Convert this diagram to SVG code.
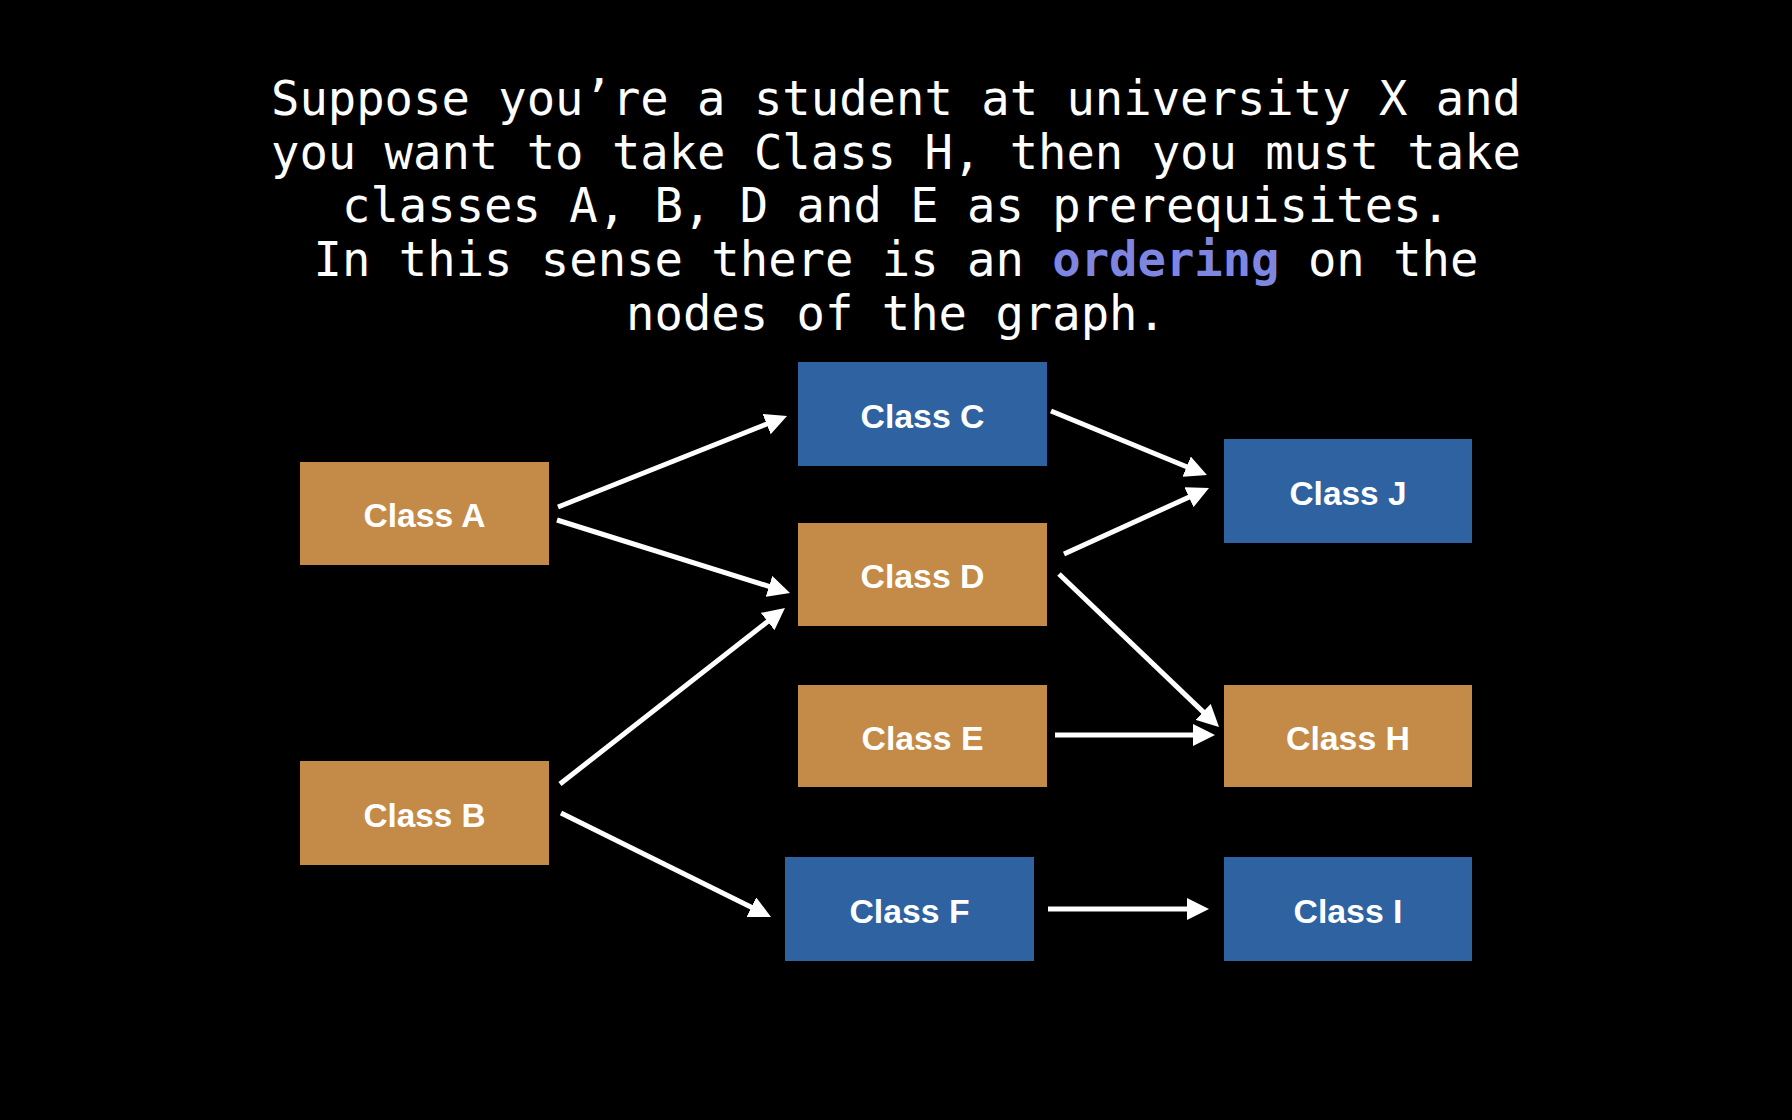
<svg xmlns="http://www.w3.org/2000/svg" width="1792" height="1120" viewBox="0 0 1792 1120">
<defs>
<style>
.title{font-family:"DejaVu Sans Mono",monospace;font-size:47.2px;fill:#ffffff;text-anchor:middle}
.hl{fill:#7F86E2;font-weight:bold}
.box-o{fill:#C48A47}
.box-b{fill:#2E62A0}
.lbl{font-family:"Liberation Sans",Arial,sans-serif;font-weight:bold;font-size:34px;fill:#ffffff;text-anchor:middle}
.edge{stroke:#ffffff;stroke-width:5;fill:none;marker-end:url(#arr)}
</style>
<marker id="arr" markerUnits="userSpaceOnUse" markerWidth="22" markerHeight="22" refX="4" refY="11" orient="auto" viewBox="0 0 22 22">
<path d="M0,0 L22,11 L0,22 z" fill="#ffffff"/>
</marker>
</defs>
<rect width="1792" height="1120" fill="#000000"/>
<g id="title">
<text class="title" x="896" y="115">Suppose you’re a student at university X and</text>
<text class="title" x="896" y="169">you want to take Class H, then you must take</text>
<text class="title" x="896" y="222">classes A, B, D and E as prerequisites.</text>
<text class="title" x="896" y="276">In this sense there is an <tspan class="hl">ordering</tspan> on the</text>
<text class="title" x="896" y="330">nodes of the graph.</text>
</g>
<g id="connectors">
<line class="edge" x1="558" y1="507" x2="770.3" y2="422.6"/>
<line class="edge" x1="557" y1="520" x2="772.8" y2="587.6"/>
<line class="edge" x1="560" y1="784" x2="770.8" y2="619.1"/>
<line class="edge" x1="561" y1="813" x2="754.9" y2="909"/>
<line class="edge" x1="1051" y1="411" x2="1190.3" y2="468.2"/>
<line class="edge" x1="1064" y1="554" x2="1192.6" y2="495.5"/>
<line class="edge" x1="1059" y1="574" x2="1206" y2="714.6"/>
<line class="edge" x1="1055" y1="735" x2="1197" y2="735"/>
<line class="edge" x1="1048" y1="909" x2="1191" y2="909"/>
</g>
<g id="classA"><rect class="box-o" x="300" y="462" width="249" height="103"/><text class="lbl" x="424.5" y="527" textLength="122" lengthAdjust="spacingAndGlyphs">Class A</text></g>
<g id="classB"><rect class="box-o" x="300" y="761" width="249" height="104"/><text class="lbl" x="424.5" y="827" textLength="122" lengthAdjust="spacingAndGlyphs">Class B</text></g>
<g id="classC"><rect class="box-b" x="798" y="362" width="249" height="104"/><text class="lbl" x="922.5" y="428" textLength="124" lengthAdjust="spacingAndGlyphs">Class C</text></g>
<g id="classD"><rect class="box-o" x="798" y="523" width="249" height="103"/><text class="lbl" x="922.5" y="588" textLength="124" lengthAdjust="spacingAndGlyphs">Class D</text></g>
<g id="classE"><rect class="box-o" x="798" y="685" width="249" height="102"/><text class="lbl" x="922.5" y="750" textLength="122" lengthAdjust="spacingAndGlyphs">Class E</text></g>
<g id="classF"><rect class="box-b" x="785" y="857" width="249" height="104"/><text class="lbl" x="909.5" y="923" textLength="120" lengthAdjust="spacingAndGlyphs">Class F</text></g>
<g id="classJ"><rect class="box-b" x="1224" y="439" width="248" height="104"/><text class="lbl" x="1348" y="505" textLength="117" lengthAdjust="spacingAndGlyphs">Class J</text></g>
<g id="classH"><rect class="box-o" x="1224" y="685" width="248" height="102"/><text class="lbl" x="1348" y="750" textLength="124" lengthAdjust="spacingAndGlyphs">Class H</text></g>
<g id="classI"><rect class="box-b" x="1224" y="857" width="248" height="104"/><text class="lbl" x="1348" y="923" textLength="109" lengthAdjust="spacingAndGlyphs">Class I</text></g>
</svg>
